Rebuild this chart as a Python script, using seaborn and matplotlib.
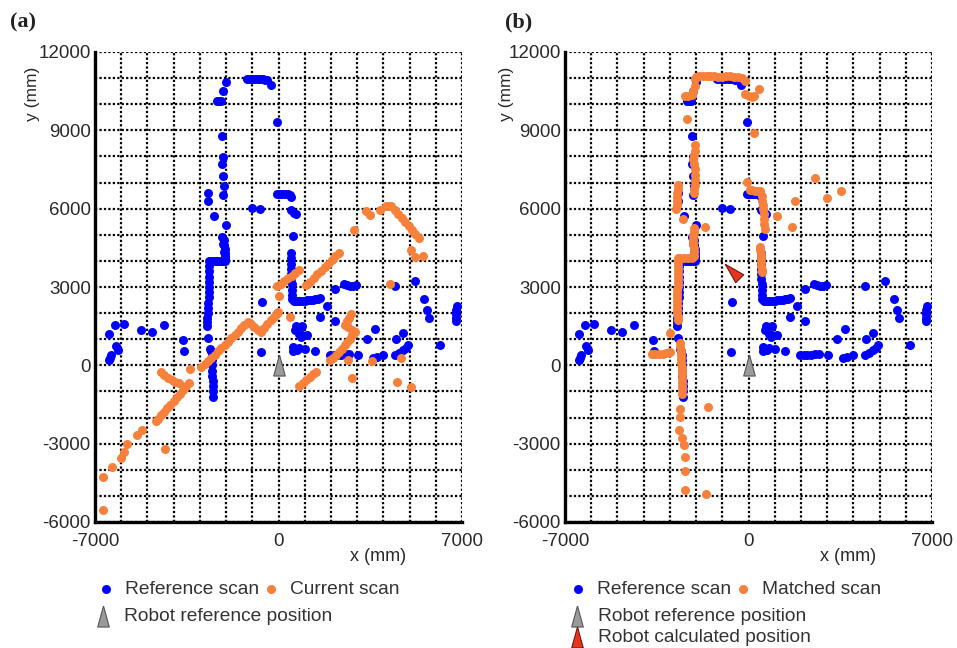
import numpy as np
import pandas as pd
import matplotlib
matplotlib.use('Agg')
import matplotlib.pyplot as plt
import seaborn as sns

sns.set_style('white')
plt.rcParams['font.family'] = ['Liberation Sans', 'DejaVu Sans']

# scan points (mm)
ref_scan = [
    (-2000, 10850), (-2130, 10520), (-2360, 10130), (-2200, 10130), (-2280, 10130),
    (-1200, 10950), (-1100, 10950), (-1000, 10960), (-900, 10960), (-800, 10960),
    (-700, 10950), (-600, 10950), (-500, 10940), (-430, 10930), (-270, 10730),
    (-60, 9310), (-2150, 8780), (-2100, 7970), (-2140, 7710), (-2100, 7240),
    (-2090, 6850), (-2100, 6540), (-2700, 6600), (-2700, 6310), (-1000, 6030),
    (-690, 6000), (-2460, 5700), (-2010, 5360), (-2140, 4910), (-2100, 4660),
    (-2060, 4340), (-2080, 4800), (-2070, 4600), (-2050, 4450), (-2040, 4300),
    (-2030, 4200), (-2030, 4100), (-2030, 4000),
    (-2100, 3980), (-2200, 3980), (-2300, 3980), (-2400, 3980), (-2500, 3980),
    (-2600, 3980), (-2650, 3980),
    (-2650, 3800), (-2650, 3600), (-2650, 3400), (-2650, 3200), (-2650, 3000),
    (-2640, 2800), (-2660, 2600), (-2680, 2400), (-2700, 2200), (-2700, 2000),
    (-2710, 1800), (-2720, 1650), (-2720, 1500), (-2700, 1050), (-2610, 640),
    (-2560, 550), (-2540, 400), (-2530, 200), (-2520, 0), (-2520, -200),
    (-2520, -400), (-2510, -600), (-2510, -800), (-2500, -1000), (-2500, -1200),
    (-620, 2440), (-650, 510),
    (-6460, 1210), (-6230, 1530), (-5880, 1600), (-5240, 1360), (-4830, 1260),
    (-4380, 1560), (-3650, 970), (-3620, 540), (-6200, 730), (-6130, 580),
    (-6400, 400), (-6460, 220), (-6420, 300),
    (-60, 6560), (50, 6560), (150, 6560), (250, 6560), (350, 6550), (420, 6520),
    (480, 6450), (480, 5940), (600, 5850), (660, 5780), (560, 4940),
    (470, 4300), (470, 4100), (480, 3900), (480, 3700), (490, 3500), (490, 3300),
    (500, 3100), (500, 2900), (510, 2700), (520, 2550),
    (600, 2450), (700, 2450), (800, 2460), (900, 2470), (1000, 2480), (1100, 2490),
    (1200, 2500), (1300, 2510), (1400, 2530), (1500, 2540), (1580, 2560),
    (1845, 2280), (1565, 1870), (2140, 1700), (2140, 2920),
    (2480, 3120), (2600, 3080), (2720, 3050), (2850, 3050), (2960, 3070),
    (4430, 3050), (5200, 3230), (3665, 1380), (3370, 990),
    (660, 1510), (900, 1510), (620, 1350), (790, 1200), (900, 1180), (1100, 1170),
    (850, 1100), (540, 720), (560, 550), (700, 600), (790, 650), (1000, 620), (1410, 560),
    (1950, 400), (2100, 400), (2250, 400), (2400, 410), (2550, 420), (2700, 430),
    (3030, 400), (3600, 270), (3750, 330), (3980, 400),
    (4430, 400), (4580, 480), (4745, 590), (4850, 680), (4935, 760),
    (4490, 1020), (4745, 1220), (5550, 2530), (5660, 2120), (5740, 1830),
    (6800, 2280), (6780, 2120), (6780, 1960), (6760, 1800), (6760, 1680), (6145, 780),
]

current_scan = [
    (-2950, -60), (-2820, 60), (-2700, 170), (-2570, 290), (-2440, 410), (-2310, 540),
    (-2180, 660), (-2050, 790), (-1920, 910), (-1800, 1040), (-1670, 1160),
    (-1550, 1290), (-1420, 1420), (-1300, 1540), (-1170, 1660), (-1050, 1580),
    (-920, 1470), (-790, 1370), (-660, 1280), (-540, 1420), (-420, 1570),
    (-300, 1720), (-180, 1860), (-60, 2000), (-20, 2060), (0, 2650),
    (-60, 3020), (80, 3120), (220, 3230), (360, 3330), (500, 3430), (640, 3530), (800, 3640),
    (1060, 3060), (1200, 3200), (1340, 3340), (1480, 3480), (1620, 3620), (1760, 3760),
    (1900, 3900), (2040, 4040), (2170, 4170), (2300, 4310),
    (2875, 5190), (3346, 5910), (3480, 5760), (3880, 5960), (4100, 6100), (4173, 6120),
    (4300, 6110), (4430, 5960), (4560, 5810), (4700, 5650), (4830, 5500), (4960, 5350),
    (5090, 5190), (5220, 5040), (5350, 4880), (5064, 4400), (5191, 4150), (5509, 4180),
    (4237, 3130),
    (2750, 1980), (2680, 1830), (2600, 1680), (2540, 1540), (2650, 1450), (2800, 1370),
    (2900, 1290), (2820, 1150), (2720, 1020), (2620, 890), (2520, 760), (2420, 640),
    (2320, 520), (2200, 400), (2080, 290), (1960, 190),
    (420, 1860), (2640, 200), (2800, -490), (3575, 150), (4680, 270), (4530, -640),
    (5060, -830),
    (800, -790), (930, -680), (1060, -570), (1190, -460), (1320, -350), (1440, -240),
    (-3390, -140),
    (-4480, -250), (-4350, -360), (-4220, -470), (-4080, -580), (-3940, -650), (-3800, -690),
    (-3400, -660), (-3520, -800), (-3640, -940), (-3760, -1080), (-3880, -1220),
    (-4000, -1360), (-4120, -1500), (-4240, -1640), (-4360, -1780), (-4480, -1920),
    (-4600, -2060), (-4680, -2150),
    (-5200, -2490), (-5400, -2680), (-5790, -3020), (-5880, -3300), (-6010, -3550),
    (-4340, -3200), (-6340, -3880), (-6700, -4270), (-6700, -5540),
]

matched_scan = [
    (-2050, 10950), (-2000, 11050), (-1900, 11080), (-1750, 11080), (-1600, 11080),
    (-1450, 11070), (-1300, 11070), (-1150, 11060), (-1000, 11060), (-850, 11070),
    (-700, 11080), (-550, 11060), (-400, 11050), (-250, 11000), (-150, 10900),
    (-2050, 10700), (-2100, 10500), (-2150, 10350), (-2300, 10320), (-2420, 10330),
    (-120, 10410), (0, 10320), (130, 10280), (200, 10300), (390, 10600), (200, 8880),
    (-2350, 9450),
    (-2030, 8420), (-2050, 8200), (-2080, 8050), (-2100, 7900), (-2070, 7700),
    (-2050, 7500), (-2040, 7300), (-2040, 7100), (-2050, 6900), (-2060, 6750), (-2080, 6600),
    (-2690, 6900), (-2700, 6750), (-2710, 6600), (-2720, 6450), (-2730, 6300),
    (-2740, 6150), (-2760, 6000), (-2480, 5600), (-1650, 5290),
    (-2080, 5250), (-2090, 5100), (-2100, 4950), (-2100, 4800), (-2100, 4650),
    (-2090, 4500), (-2080, 4350), (-2070, 4200),
    (-2150, 4120), (-2300, 4120), (-2450, 4120), (-2600, 4120), (-2680, 4100),
    (-2680, 3950), (-2680, 3800), (-2680, 3650), (-2690, 3500), (-2690, 3350),
    (-2690, 3200), (-2700, 3050), (-2720, 2900), (-2730, 2750), (-2740, 2600),
    (-2740, 2450), (-2740, 2300), (-2730, 2150), (-2720, 2000), (-2700, 1850),
    (-2680, 1720), (-3000, 1230),
    (-3700, 420), (-3560, 420), (-3420, 430), (-3280, 440), (-3140, 470), (-3000, 520),
    (-2620, 850), (-2600, 700), (-2590, 550), (-2580, 400), (-2570, 250), (-2560, 100),
    (-2550, -50), (-2550, -200), (-2540, -350), (-2540, -500), (-2530, -650),
    (-2530, -800), (-2520, -950), (-2520, -1100),
    (-2610, -1690), (-2600, -1980), (-2660, -2490), (-2540, -2770), (-2460, -3040),
    (-2440, -3520), (-2440, -4030), (-2440, -4760), (-1620, -4940), (-1530, -1610),
    (-70, 7020), (55, 6700), (150, 6700), (250, 6690), (350, 6680), (440, 6670),
    (500, 6500), (520, 6300), (540, 6150), (560, 6000), (580, 5800), (600, 5600),
    (610, 5400), (630, 5240),
    (440, 4540), (450, 4400), (460, 4250), (470, 4100), (480, 3950), (490, 3800),
    (510, 3650), (520, 3580),
    (1080, 5700), (1780, 6280), (1670, 5300), (2520, 7170), (3010, 6410), (3510, 6660),
]

robot_ref = [(0, 0)]
robot_calc = [(-630, 3600)]

x_ticks = list(range(-7000, 7001, 1000))
x_labels = ['-7000', '', '', '', '', '', '', '0', '', '', '', '', '', '', '7000']
y_ticks = list(range(-6000, 12001, 1000))
y_labels = ['-6000', '', '', '-3000', '', '', '0', '', '', '3000', '', '',
            '6000', '', '', '9000', '', '', '12000']

blue = '#0000ff'
orange = '#f7803a'


def to_df(pts):
    return pd.DataFrame(pts, columns=['x', 'y'])


# tall narrow triangle marker for the robot
tri = np.array([(0, 1), (-0.55, -1), (0.55, -1), (0, 1)])
ang = np.deg2rad(45)
rot = np.array([[np.cos(ang), -np.sin(ang)], [np.sin(ang), np.cos(ang)]])
tri_rot = tri @ rot.T

fig = plt.figure(figsize=(9.57, 6.48), dpi=100)
ax_a = fig.add_axes([95 / 957, 126 / 648, 367 / 957, 470 / 648])
ax_b = fig.add_axes([565 / 957, 126 / 648, 367 / 957, 470 / 648])

panels = [(ax_a, current_scan, 'Current scan', False, 0.0105, '(a)', 0.1003, 0.098),
          (ax_b, matched_scan, 'Matched scan', True, 0.528, '(b)', 0.5935, 0.5925)]

for ax, scan, scan_name, show_calc, lx, tag, lg1, lg2 in panels:
    sns.scatterplot(data=to_df(ref_scan), x='x', y='y', color=blue, s=42,
                    linewidth=0, ax=ax, zorder=3)
    h_ref = ax.collections[-1]
    sns.scatterplot(data=to_df(scan), x='x', y='y', color=orange, s=42,
                    linewidth=0, ax=ax, zorder=4)
    h_scan = ax.collections[-1]
    sns.scatterplot(data=to_df(robot_ref), x='x', y='y', marker=tri, s=230,
                    color='#9a9a9a', edgecolor='#555555', linewidth=0.8, ax=ax, zorder=5)
    h_robot = ax.collections[-1]
    tri_handles = [h_robot]
    tri_labels = ['Robot reference position']
    if show_calc:
        sns.scatterplot(data=to_df(robot_calc), x='x', y='y', marker=tri_rot, s=260,
                        color='#e8341c', edgecolor='#6a1a10', linewidth=0.8, ax=ax, zorder=5)
        h_calc_leg = ax.scatter([], [], marker=tri, s=230, color='#e8341c',
                                edgecolor='#6a1a10', linewidth=0.8)
        tri_handles.append(h_calc_leg)
        tri_labels.append('Robot calculated position')

    ax.set_xlim(-7000, 7000)
    ax.set_ylim(-6000, 12000)
    ax.set_xticks(x_ticks)
    ax.set_xticklabels(x_labels)
    ax.set_yticks(y_ticks)
    ax.set_yticklabels(y_labels)
    ax.tick_params(axis='both', length=0, labelsize=13.5, colors='#2a2a2a')
    ax.tick_params(axis='x', pad=8)
    ax.tick_params(axis='y', pad=3)
    ax.grid(True, color='black', linestyle=(0, (1, 1.0)), linewidth=1.6)
    ax.set_axisbelow(True)
    for side in ['top', 'right']:
        ax.spines[side].set_visible(False)
    for side in ['left', 'bottom']:
        ax.spines[side].set_linewidth(2.4)
        ax.spines[side].set_color('black')
        ax.spines[side].set_zorder(6)

    ax.set_xlabel('x (mm)', fontsize=13, color='#2a2a2a')
    ax.set_ylabel('y (mm)', fontsize=12.5, color='#2a2a2a')
    ax.xaxis.set_label_coords(0.77, -0.056)
    ax.yaxis.set_label_coords(-0.15 if not show_calc else -0.14, 0.91)

    fig.text(lx, 0.966, tag, fontfamily=['Liberation Serif'], fontweight='bold',
             fontsize=16, va='center', ha='left', color='#222222')

    fig.legend([h_ref, h_scan], ['Reference scan', scan_name], loc='upper left',
               bbox_to_anchor=(lg1, 0.1034), bbox_transform=fig.transFigure,
               ncol=2, frameon=False, fontsize=13.8, handlelength=1.0,
               handletextpad=0.5, columnspacing=0.15, borderpad=0, borderaxespad=0,
               labelcolor='#333333')
    fig.legend(tri_handles, tri_labels, loc='upper left',
               bbox_to_anchor=(lg2, 0.062), bbox_transform=fig.transFigure,
               ncol=1, frameon=False, fontsize=13.8, handlelength=1.0,
               handletextpad=0.6, labelspacing=0.2, borderpad=0, borderaxespad=0,
               labelcolor='#333333')

fig.savefig('out.png', dpi=100)
